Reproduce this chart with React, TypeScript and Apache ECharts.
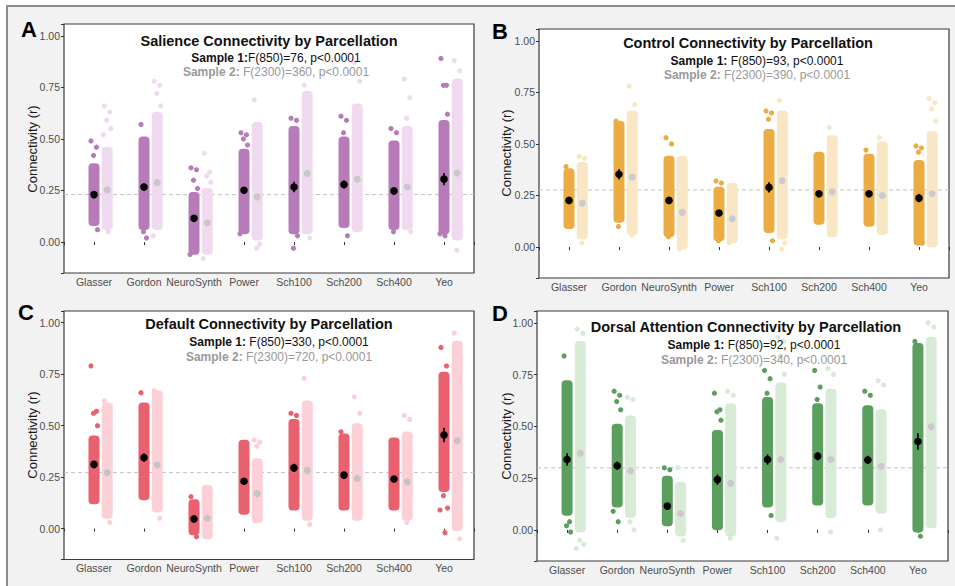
import React, { useEffect, useRef } from "react";
import * as echarts from "echarts";

// ---------- shared ----------
const categories = ["Glasser", "Gordon", "NeuroSynth", "Power", "Sch100", "Sch200", "Sch400", "Yeo"];
const yTickValues = [0, 0.25, 0.5, 0.75, 1.0];
const yAxisTitle = "Connectivity (r)";

// ---------- A: Salience ----------
const salienceTitle = "Salience Connectivity by Parcellation";
const salienceStat1 = ["Sample 1:", "F(850)=76, p<0.0001"];
const salienceStat2 = ["Sample 2:", " F(2300)=360, p<0.0001"];
const salienceS1Mean = [0.23, 0.267, 0.115, 0.251, 0.267, 0.279, 0.248, 0.305];
const salienceS1Err = [0.015, 0.018, 0.015, 0.015, 0.025, 0.02, 0.018, 0.03];
const salienceS2Mean = [0.253, 0.288, 0.092, 0.219, 0.332, 0.305, 0.267, 0.335];
const salienceS1Lo = [0.09, 0.07, -0.05, 0.05, 0.05, 0.08, 0.07, 0.05];
const salienceS1Hi = [0.37, 0.5, 0.23, 0.44, 0.55, 0.5, 0.48, 0.58];
const salienceS2Lo = [0.07, 0.07, -0.05, 0.02, 0.05, 0.06, 0.07, 0.02];
const salienceS2Hi = [0.45, 0.62, 0.25, 0.57, 0.72, 0.66, 0.55, 0.78];
const salienceS1Out = [[0.49, 0.46, 0.42, 0.06], [0.57, 0.02, 0.05], [0.36, 0.35, 0.3, 0.26, -0.06], [0.53, 0.52, 0.5, 0.47, 0.04], [0.6, 0.59, -0.03, 0.03], [0.61, 0.59, 0.53, 0.03], [0.55, 0.53, 0.05], [0.89, 0.76, 0.76, 0.62, 0.04, 0.03]];
const salienceS2Out = [[0.66, 0.63, 0.59, 0.55, 0.52, 0.05], [0.78, 0.76, 0.72, 0.66, 0.03], [0.43, 0.34, 0.32, 0.29, -0.08], [0.69, -0.01, -0.03], [0.76, 0.02], [0.87, 0.78, 0.06], [0.79, 0.7, 0.6, 0.05], [0.88, 0.83, -0.04]];
const salienceRef = 0.23;

// ---------- B: Control ----------
const controlTitle = "Control Connectivity by Parcellation";
const controlStat1 = ["Sample 1:", " F(850)=93, p<0.0001"];
const controlStat2 = ["Sample 2:", " F(2300)=390, p<0.0001"];
const controlS1Mean = [0.226, 0.353, 0.226, 0.165, 0.289, 0.258, 0.258, 0.237];
const controlS1Err = [0.015, 0.025, 0.015, 0.012, 0.025, 0.015, 0.015, 0.02];
const controlS2Mean = [0.213, 0.34, 0.168, 0.137, 0.321, 0.268, 0.25, 0.258];
const controlS1Lo = [0.1, 0.13, 0.06, 0.04, 0.08, 0.12, 0.11, 0.02];
const controlS1Hi = [0.37, 0.6, 0.43, 0.28, 0.56, 0.45, 0.44, 0.41];
const controlS2Lo = [0.05, 0.07, 0.0, 0.03, 0.05, 0.06, 0.07, 0.01];
const controlS2Hi = [0.4, 0.65, 0.43, 0.3, 0.65, 0.53, 0.5, 0.55];
const controlS1Out = [[0.39], [0.61, 0.14, 0.1], [0.53, 0.5, 0.05], [0.32, 0.31, 0.03], [0.66, 0.65, 0.62, 0.03], [], [0.47], [0.49, 0.48, 0.46, 0.02]];
const controlS2Out = [[0.44, 0.43, 0.02], [0.78, 0.69, 0.06], [-0.01], [0.02], [0.71, 0.02, -0.01], [0.58], [0.53], [0.72, 0.7, 0.67, 0.61]];
const controlRef = 0.277;

// ---------- C: Default ----------
const defaultTitle = "Default Connectivity by Parcellation";
const defaultStat1 = ["Sample 1:", " F(850)=330, p<0.0001"];
const defaultStat2 = ["Sample 2:", " F(2300)=720, p<0.0001"];
const defaultS1Mean = [0.312, 0.345, 0.047, 0.23, 0.295, 0.26, 0.241, 0.455];
const defaultS1Err = [0.018, 0.02, 0.012, 0.015, 0.02, 0.015, 0.015, 0.035];
const defaultS2Mean = [0.273, 0.309, 0.05, 0.17, 0.283, 0.243, 0.227, 0.427];
const defaultS1Lo = [0.13, 0.15, -0.02, 0.08, 0.1, 0.1, 0.1, 0.19];
const defaultS1Hi = [0.44, 0.6, 0.13, 0.42, 0.52, 0.45, 0.43, 0.75];
const defaultS2Lo = [0.06, 0.09, -0.04, 0.04, 0.05, 0.05, 0.05, 0.0];
const defaultS2Hi = [0.6, 0.66, 0.2, 0.33, 0.61, 0.5, 0.46, 0.9];
const defaultS1Out = [[0.79, 0.57, 0.56, 0.5], [0.66], [0.155, -0.04], [], [0.56, 0.55], [0.47], [], [0.88, 0.79, 0.16, 0.1, 0.09, -0.02]];
const defaultS2Out = [[0.62, 0.03], [0.67, 0.05], [], [0.43, 0.42, 0.4], [0.73, 0.02], [0.64, 0.56], [0.55, 0.53, 0.03], [0.95, -0.05]];
const defaultRef = 0.273;

// ---------- D: Dorsal Attention ----------
const dorsalTitle = "Dorsal Attention Connectivity by Parcellation";
const dorsalStat1 = ["Sample 1:", " F(850)=92, p<0.0001"];
const dorsalStat2 = ["Sample 2:", " F(2300)=340, p<0.0001"];
const dorsalS1Mean = [0.34, 0.31, 0.115, 0.243, 0.34, 0.356, 0.338, 0.427];
const dorsalS1Err = [0.03, 0.02, 0.015, 0.025, 0.025, 0.02, 0.02, 0.04];
const dorsalS2Mean = [0.37, 0.286, 0.079, 0.225, 0.34, 0.34, 0.307, 0.498];
const dorsalS1Lo = [0.08, 0.12, 0.03, 0.01, 0.12, 0.13, 0.13, 0.0];
const dorsalS1Hi = [0.71, 0.5, 0.25, 0.47, 0.63, 0.6, 0.59, 0.89];
const dorsalS2Lo = [0.0, 0.07, -0.02, -0.02, 0.05, 0.07, 0.09, 0.02];
const dorsalS2Hi = [0.9, 0.54, 0.22, 0.6, 0.7, 0.67, 0.57, 0.92];
const dorsalS1Out = [[0.84, 0.04, 0.02, -0.01], [0.67, 0.65, 0.62, 0.58, 0.09, 0.04], [0.3, 0.29], [0.66, 0.58, 0.57, 0.53], [0.77, 0.73, 0.66, 0.07], [0.77, 0.69, 0.63], [0.67, 0.65], [0.91, -0.03]];
const dorsalS2Out = [[0.97, 0.95, -0.05, -0.07, -0.09], [0.64, 0.63, 0.04, 0.0], [0.3, -0.05], [0.67, 0.65, -0.04], [0.93, 0.91, 0.84, 0.75, -0.04], [0.78, 0.75, -0.01], [0.72, 0.7, 0.0], [1.0, 0.98]];
const dorsalRef = 0.3;

const FONT = '"Liberation Sans", Arial, Helvetica, sans-serif';
const JITTER = [-0.06, 0.05, -0.01, 0.07, -0.08, 0.02, 0.08, -0.04];
const S2_OFFSET = 0.265;

const panels = [
  {
    letter: "A", title: salienceTitle, stat1: salienceStat1, stat2: salienceStat2,
    s1Mean: salienceS1Mean, s1Err: salienceS1Err, s2Mean: salienceS2Mean,
    s1Lo: salienceS1Lo, s1Hi: salienceS1Hi, s2Lo: salienceS2Lo, s2Hi: salienceS2Hi,
    s1Out: salienceS1Out, s2Out: salienceS2Out, ref: salienceRef,
    dark: "#b87bb9", light: "#efdaef", meanLight: "#c9c7c9",
    grid: { left: 64, top: 24, width: 410, height: 249 },
    letterPos: [29, 29], titleX: 269, subX: 276, titleY: [41, 57.5, 72], yNamePos: [32, 149],
  },
  {
    letter: "B", title: controlTitle, stat1: controlStat1, stat2: controlStat2,
    s1Mean: controlS1Mean, s1Err: controlS1Err, s2Mean: controlS2Mean,
    s1Lo: controlS1Lo, s1Hi: controlS1Hi, s2Lo: controlS2Lo, s2Hi: controlS2Hi,
    s1Out: controlS1Out, s2Out: controlS2Out, ref: controlRef,
    dark: "#ebad42", light: "#f9e6c5", meanLight: "#c9cbd0",
    grid: { left: 539, top: 29, width: 410, height: 249 },
    letterPos: [500, 31], titleX: 748, subX: 757, titleY: [42.5, 60.5, 75], yNamePos: [506, 153],
  },
  {
    letter: "C", title: defaultTitle, stat1: defaultStat1, stat2: defaultStat2,
    s1Mean: defaultS1Mean, s1Err: defaultS1Err, s2Mean: defaultS2Mean,
    s1Lo: defaultS1Lo, s1Hi: defaultS1Hi, s2Lo: defaultS2Lo, s2Hi: defaultS2Hi,
    s1Out: defaultS1Out, s2Out: defaultS2Out, ref: defaultRef,
    dark: "#e9606f", light: "#fbd0d7", meanLight: "#c4c4c4",
    grid: { left: 64, top: 311, width: 410, height: 248.5 },
    letterPos: [26, 312], titleX: 269, subX: 279, titleY: [324, 342, 357], yNamePos: [32, 435],
  },
  {
    letter: "D", title: dorsalTitle, stat1: dorsalStat1, stat2: dorsalStat2,
    s1Mean: dorsalS1Mean, s1Err: dorsalS1Err, s2Mean: dorsalS2Mean,
    s1Lo: dorsalS1Lo, s1Hi: dorsalS1Hi, s2Lo: dorsalS2Lo, s2Hi: dorsalS2Hi,
    s1Out: dorsalS1Out, s2Out: dorsalS2Out, ref: dorsalRef,
    dark: "#5b9f5f", light: "#d7ebd6", meanLight: "#cfc6cf",
    grid: { left: 537, top: 311, width: 411, height: 250 },
    letterPos: [500, 313], titleX: 746, subX: 754, titleY: [327, 345, 359.5], yNamePos: [506, 436],
  },
];

const cloudItem = (offset: number, color: string) => (params: any, api: any) => {
  const x = api.value(0) + offset;
  const top = api.coord([x, api.value(2)]);
  const bot = api.coord([x, api.value(1)]);
  const w = 11;
  return {
    type: "rect",
    shape: { x: top[0] - w / 2, y: top[1] - 2.5, width: w, height: bot[1] - top[1] + 5, r: 4 },
    style: { fill: color },
  };
};

const dotItem = (offset: number, color: string) => (params: any, api: any) => {
  const j = JITTER[api.value(2) % JITTER.length];
  const p = api.coord([api.value(0) + offset + j, api.value(1)]);
  return { type: "circle", shape: { cx: p[0], cy: p[1], r: 2.6 }, style: { fill: color } };
};

const meanItem = (params: any, api: any) => {
  const x = api.value(0);
  const m = api.value(1);
  const e = api.value(2);
  const c = api.coord([x, m]);
  const hi = api.coord([x, m + e]);
  const lo = api.coord([x, m - e]);
  return {
    type: "group",
    children: [
      { type: "line", shape: { x1: c[0], y1: hi[1], x2: c[0], y2: lo[1] }, style: { stroke: "#000", lineWidth: 1.6 } },
      { type: "circle", shape: { cx: c[0], cy: c[1], r: 3.8 }, style: { fill: "#000" } },
    ],
  };
};

const meanLightItem = (offset: number, color: string) => (params: any, api: any) => {
  const c = api.coord([api.value(0) + offset, api.value(1)]);
  return { type: "circle", shape: { cx: c[0], cy: c[1], r: 3.5 }, style: { fill: color } };
};

function buildOption() {
  const grid: any[] = [];
  const xAxis: any[] = [];
  const yAxis: any[] = [];
  const series: any[] = [];
  const graphics: any[] = [
    {
      type: "rect", z: -10, silent: true,
      shape: { x: 7, y: 6, width: 960, height: 600 },
      style: { fill: "#f2f2f2", stroke: "#8c8c8c", lineWidth: 2 },
    },
  ];

  panels.forEach((p, i) => {
    grid.push({
      ...p.grid, show: true, backgroundColor: "#ffffff", borderColor: "#3a3a3a", borderWidth: 1.2, containLabel: false,
    });
    xAxis.push({
      gridIndex: i, type: "value", min: 0.4, max: 8.6, minInterval: 1, maxInterval: 1,
      axisLine: { show: false }, splitLine: { show: false },
      axisTick: { show: true, length: 3, lineStyle: { color: "#333" } },
      axisLabel: {
        margin: 3, fontSize: 10.5, color: "#4d4d4d", fontFamily: FONT,
        showMinLabel: true, showMaxLabel: true, hideOverlap: false,
        formatter: (v: number) => {
          const k = Math.round(v);
          return Math.abs(v - k) < 1e-6 && k >= 1 && k <= categories.length ? categories[k - 1] : "";
        },
      },
    });
    yAxis.push({
      gridIndex: i, type: "value", min: -0.15, max: 1.057, minInterval: 0.25, maxInterval: 0.25,
      axisLine: { show: false }, splitLine: { show: false },
      axisTick: { show: true, length: 3, lineStyle: { color: "#333" } },
      axisLabel: {
        margin: 4, fontSize: 10.5, color: "#4d4d4d", fontFamily: FONT,
        formatter: (v: number) => (yTickValues.some((t) => Math.abs(t - v) < 1e-6) ? v.toFixed(2) : ""),
      },
    });

    const ax = { xAxisIndex: i, yAxisIndex: i };
    series.push({
      type: "line", ...ax, data: [[0.4, p.ref], [8.6, p.ref]], showSymbol: false, symbol: "none",
      lineStyle: { color: "#c2c2c2", width: 1, type: [4, 3] }, z: 1, silent: true,
    });
    series.push({
      type: "custom", ...ax, z: 2, silent: true,
      data: categories.map((_, k) => [k + 1, p.s2Lo[k], p.s2Hi[k]]),
      renderItem: cloudItem(S2_OFFSET, p.light),
    });
    series.push({
      type: "custom", ...ax, z: 2, silent: true,
      data: categories.flatMap((_, k) => p.s2Out[k].map((v, j) => [k + 1, v, j])),
      renderItem: dotItem(S2_OFFSET, p.light),
    });
    series.push({
      type: "custom", ...ax, z: 3, silent: true,
      data: categories.map((_, k) => [k + 1, p.s1Lo[k], p.s1Hi[k]]),
      renderItem: cloudItem(0, p.dark),
    });
    series.push({
      type: "custom", ...ax, z: 3, silent: true,
      data: categories.flatMap((_, k) => p.s1Out[k].map((v, j) => [k + 1, v, j])),
      renderItem: dotItem(0, p.dark),
    });
    series.push({
      type: "custom", ...ax, z: 4, silent: true,
      data: categories.map((_, k) => [k + 1, p.s2Mean[k]]),
      renderItem: meanLightItem(S2_OFFSET, p.meanLight),
    });
    series.push({
      type: "custom", ...ax, z: 5, silent: true,
      data: categories.map((_, k) => [k + 1, p.s1Mean[k], p.s1Err[k]]),
      renderItem: meanItem,
    });

    graphics.push({
      type: "text", x: p.yNamePos[0], y: p.yNamePos[1], rotation: Math.PI / 2, z: 10,
      style: { text: yAxisTitle, fontSize: 13, fontFamily: FONT, fill: "#1a1a1a", align: "center", verticalAlign: "middle" },
    });
    graphics.push({
      type: "text", x: p.letterPos[0], y: p.letterPos[1], z: 10,
      style: { text: p.letter, fontSize: 22, fontWeight: "bold", fontFamily: FONT, fill: "#000", align: "center", verticalAlign: "middle" },
    });
    graphics.push({
      type: "text", x: p.titleX, y: p.titleY[0], z: 10,
      style: { text: p.title, fontSize: 14.5, fontWeight: "bold", fontFamily: FONT, fill: "#111", align: "center", verticalAlign: "middle" },
    });
    graphics.push({
      type: "text", x: p.subX, y: p.titleY[1], z: 10,
      style: {
        text: `{b|${p.stat1[0]}}{n|${p.stat1[1]}}`, fontSize: 12, fontFamily: FONT, fill: "#111",
        align: "center", verticalAlign: "middle",
        rich: {
          b: { fontSize: 12, fontWeight: "bold", fontFamily: FONT, fill: "#111" },
          n: { fontSize: 12, fontFamily: FONT, fill: "#111" },
        },
      },
    });
    graphics.push({
      type: "text", x: p.subX, y: p.titleY[2], z: 10,
      style: {
        text: `{b|${p.stat2[0]}}{n|${p.stat2[1]}}`, fontSize: 12, fontFamily: FONT, fill: "#999",
        align: "center", verticalAlign: "middle",
        rich: {
          b: { fontSize: 12, fontWeight: "bold", fontFamily: FONT, fill: "#999" },
          n: { fontSize: 12, fontFamily: FONT, fill: "#999" },
        },
      },
    });
  });

  return {
    animation: false,
    backgroundColor: "#ffffff",
    textStyle: { fontFamily: FONT },
    grid, xAxis, yAxis, series,
    graphic: { elements: graphics },
  };
}

export default function App() {
  const ref = useRef<HTMLDivElement>(null);
  useEffect(() => {
    if (!ref.current) return;
    const chart = echarts.init(ref.current, null, { renderer: "svg" });
    chart.setOption(buildOption() as any);
    return () => chart.dispose();
  }, []);
  return <div ref={ref} style={{ position: "fixed", left: 0, top: 0, width: 955, height: 586 }} />;
}
